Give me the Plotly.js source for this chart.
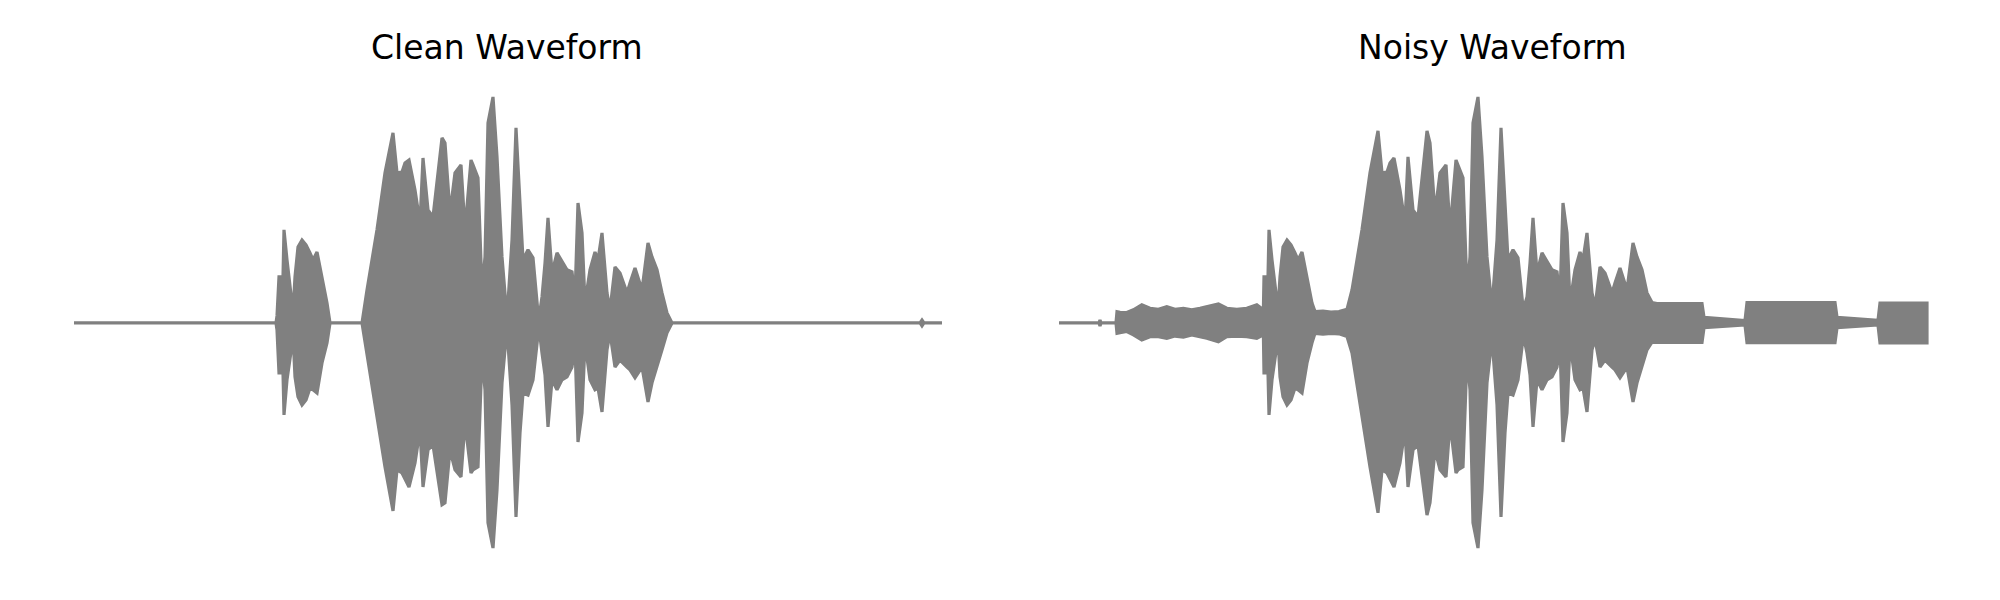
<!DOCTYPE html>
<html>
<head>
<meta charset="utf-8">
<script src="https://cdn.plot.ly/plotly-3.0.1.min.js"></script>
<style>html,body{margin:0;padding:0;background:#fff;}#chart{width:2000px;height:600px;}</style>
</head>
<body>
<div id="chart"></div>
<script>
// Panel titles
const panelTitles = ["Clean Waveform", "Noisy Waveform"];

// Clean waveform: envelope (time in s, normalized amplitude)
const cleanTime = [0, 1.010, 1.015, 1.025, 1.045, 1.050, 1.065, 1.090, 1.095, 1.105, 1.120, 1.140, 1.160, 1.180, 1.195, 1.215, 1.240, 1.265, 1.280,
  1.440, 1.465, 1.515, 1.555, 1.595, 1.615, 1.640, 1.655, 1.675, 1.705, 1.730, 1.745, 1.770, 1.795, 1.840, 1.855, 1.880, 1.905, 1.935, 1.955, 1.985, 1.995, 2.020, 2.040, 2.055, 2.070, 2.095, 2.115, 2.140, 2.165, 2.190, 2.210,
  2.230, 2.245, 2.270, 2.295, 2.320, 2.325, 2.340, 2.355, 2.370, 2.390, 2.415, 2.440, 2.465, 2.490, 2.505, 2.520, 2.540, 2.555, 2.580, 2.605, 2.620, 2.640, 2.665, 2.680, 2.705, 2.730, 2.765, 2.780, 2.805, 2.840, 2.870, 2.890, 2.915, 2.940, 2.965, 2.990,
  4.230, 4.240, 4.250, 4.340];
const cleanUpper = [0, 0, 0.031, 0.204, 0.204, 0.412, 0.279, 0.102, 0.049, 0.204, 0.336, 0.367, 0.345, 0.310, 0.279, 0.314, 0.204, 0.088, 0,
  0, 0.146, 0.412, 0.664, 0.841, 0.664, 0.668, 0.708, 0.721, 0.588, 0.442, 0.730, 0.500, 0.469, 0.819, 0.796, 0.487, 0.664, 0.699, 0.412, 0.721, 0.699, 0.642, 0.146, 0.292, 0.885, 1.000, 0.735, 0.292, 0.022, 0.367, 0.863,
  0.500, 0.279, 0.324, 0.288, 0.044, 0.022, 0.115, 0.265, 0.465, 0.221, 0.310, 0.270, 0.235, 0.226, 0.115, 0.531, 0.398, 0.088, 0.235, 0.314, 0.279, 0.398, 0.133, 0.058, 0.248, 0.221, 0.133, 0.177, 0.243, 0.146, 0.354, 0.292, 0.235, 0.133, 0.044, 0,
  0, 0.013, 0, 0];
const cleanLower = [0, 0, -0.031, -0.221, -0.221, -0.407, -0.252, -0.097, -0.053, -0.239, -0.327, -0.363, -0.341, -0.288, -0.296, -0.310, -0.177, -0.088, 0,
  0, -0.133, -0.416, -0.637, -0.832, -0.650, -0.664, -0.686, -0.726, -0.619, -0.473, -0.726, -0.562, -0.540, -0.805, -0.796, -0.562, -0.650, -0.681, -0.442, -0.664, -0.650, -0.637, -0.150, -0.296, -0.885, -0.996, -0.739, -0.265, -0.022, -0.363, -0.858,
  -0.487, -0.310, -0.319, -0.252, -0.053, -0.022, -0.133, -0.230, -0.460, -0.252, -0.296, -0.252, -0.239, -0.195, -0.097, -0.527, -0.398, -0.088, -0.252, -0.296, -0.288, -0.394, -0.119, -0.044, -0.195, -0.164, -0.195, -0.208, -0.243, -0.195, -0.350, -0.265, -0.195, -0.119, -0.044, 0,
  0, -0.013, 0, 0];

// Noisy waveform: envelope
const noisyTime = [0, 0.200, 0.205, 0.210, 0.285, 0.290, 0.305, 0.339, 0.372, 0.414, 0.455, 0.497, 0.539, 0.580, 0.622, 0.664, 0.705, 0.739, 0.797, 0.839, 0.889, 0.939, 0.989, 1.022,
  1.025, 1.045, 1.050, 1.065, 1.090, 1.095, 1.105, 1.120, 1.140, 1.160, 1.180, 1.195, 1.215, 1.240, 1.265, 1.280, 1.320, 1.360, 1.400, 1.440,
  1.465, 1.515, 1.555, 1.595, 1.615, 1.640, 1.655, 1.675, 1.705, 1.730, 1.745, 1.770, 1.795, 1.840, 1.855, 1.880, 1.905, 1.935, 1.955, 1.985, 1.995, 2.020, 2.040, 2.055, 2.070, 2.095, 2.115, 2.140, 2.165, 2.190, 2.210,
  2.230, 2.245, 2.270, 2.295, 2.320, 2.325, 2.340, 2.355, 2.370, 2.390, 2.415, 2.440, 2.465, 2.490, 2.505, 2.520, 2.540, 2.555, 2.580, 2.605, 2.620, 2.640, 2.665, 2.680, 2.705, 2.730, 2.765, 2.780, 2.805, 2.840, 2.870, 2.890, 2.915, 2.940, 2.965,
  2.990, 3.100, 3.215, 3.225, 3.330, 3.430, 3.440, 3.600, 3.750, 3.880, 3.890, 4.000, 4.095, 4.105, 4.220, 4.340];
const noisyUpper = [0, 0, 0.013, 0, 0, 0.050, 0.047, 0.046, 0.058, 0.080, 0.065, 0.060, 0.072, 0.060, 0.065, 0.058, 0.065, 0.072, 0.084, 0.065, 0.060, 0.065, 0.080, 0.058,
  0.204, 0.204, 0.412, 0.279, 0.102, 0.060, 0.204, 0.336, 0.367, 0.345, 0.310, 0.279, 0.314, 0.204, 0.088, 0.050, 0.052, 0.048, 0.050, 0.060,
  0.146, 0.412, 0.664, 0.850, 0.664, 0.668, 0.708, 0.730, 0.588, 0.442, 0.735, 0.500, 0.469, 0.850, 0.796, 0.487, 0.664, 0.699, 0.412, 0.721, 0.699, 0.642, 0.146, 0.292, 0.885, 1.000, 0.735, 0.292, 0.070, 0.367, 0.863,
  0.500, 0.279, 0.324, 0.288, 0.070, 0.070, 0.115, 0.265, 0.465, 0.221, 0.310, 0.270, 0.235, 0.226, 0.115, 0.531, 0.398, 0.088, 0.235, 0.314, 0.279, 0.398, 0.133, 0.070, 0.248, 0.221, 0.133, 0.177, 0.243, 0.146, 0.354, 0.292, 0.235, 0.133, 0.090,
  0.086, 0.086, 0.086, 0.025, 0.018, 0.010, 0.090, 0.090, 0.090, 0.090, 0.025, 0.018, 0.011, 0.088, 0.088, 0.088];
const noisyLower = [0, 0, -0.013, 0, 0, -0.046, -0.043, -0.038, -0.053, -0.075, -0.061, -0.061, -0.068, -0.058, -0.063, -0.053, -0.061, -0.068, -0.083, -0.061, -0.058, -0.061, -0.068, -0.053,
  -0.221, -0.221, -0.407, -0.252, -0.097, -0.060, -0.239, -0.327, -0.363, -0.341, -0.288, -0.296, -0.310, -0.177, -0.088, -0.046, -0.050, -0.046, -0.048, -0.060,
  -0.133, -0.416, -0.637, -0.840, -0.650, -0.664, -0.686, -0.726, -0.619, -0.473, -0.726, -0.562, -0.540, -0.850, -0.796, -0.562, -0.650, -0.681, -0.442, -0.664, -0.650, -0.637, -0.150, -0.296, -0.885, -0.996, -0.739, -0.265, -0.070, -0.363, -0.858,
  -0.487, -0.310, -0.319, -0.252, -0.070, -0.070, -0.133, -0.230, -0.460, -0.252, -0.296, -0.252, -0.239, -0.195, -0.097, -0.527, -0.398, -0.088, -0.252, -0.296, -0.288, -0.394, -0.119, -0.070, -0.195, -0.164, -0.195, -0.208, -0.243, -0.195, -0.350, -0.265, -0.195, -0.119, -0.085,
  -0.086, -0.086, -0.086, -0.021, -0.015, -0.009, -0.087, -0.087, -0.087, -0.087, -0.021, -0.015, -0.009, -0.088, -0.088, -0.088];

const waveColor = "#808080";

function envelopeTrace(t, up, lo, xa, ya) {
  const xs = t.concat(t.slice().reverse());
  const ys = up.concat(lo.slice().reverse());
  return {
    x: xs, y: ys, xaxis: xa, yaxis: ya,
    type: "scatter", mode: "lines", fill: "toself",
    fillcolor: waveColor,
    line: {color: waveColor, width: 3.2, shape: "linear"},
    hoverinfo: "skip", showlegend: false
  };
}

const data = [
  envelopeTrace(cleanTime, cleanUpper, cleanLower, "x", "y"),
  envelopeTrace(noisyTime, noisyUpper, noisyLower, "x2", "y2")
];

const yRange = [-1.226, 1.429];
const layout = {
  width: 2000, height: 600,
  margin: {l: 0, r: 0, t: 0, b: 0},
  paper_bgcolor: "#ffffff", plot_bgcolor: "#ffffff",
  showlegend: false,
  hovermode: false,
  xaxis: {domain: [0, 0.5], range: [-0.37, 4.63], visible: false, fixedrange: true},
  yaxis: {domain: [0, 1], range: yRange, visible: false, fixedrange: true},
  xaxis2: {domain: [0.5, 1], range: [-0.295, 4.705], visible: false, fixedrange: true},
  yaxis2: {domain: [0, 1], range: yRange, visible: false, fixedrange: true, anchor: "x2"},
  annotations: [
    {text: panelTitles[0], xref: "paper", yref: "paper", x: 0.2535, y: 0.9215, xanchor: "center", yanchor: "middle", showarrow: false,
     font: {family: "DejaVu Sans", size: 33, color: "#000000"}},
    {text: panelTitles[1], xref: "paper", yref: "paper", x: 0.746, y: 0.9215, xanchor: "center", yanchor: "middle", showarrow: false,
     font: {family: "DejaVu Sans", size: 33, color: "#000000"}}
  ]
};

Plotly.newPlot("chart", data, layout, {displayModeBar: false, staticPlot: true});
</script>
</body>
</html>
